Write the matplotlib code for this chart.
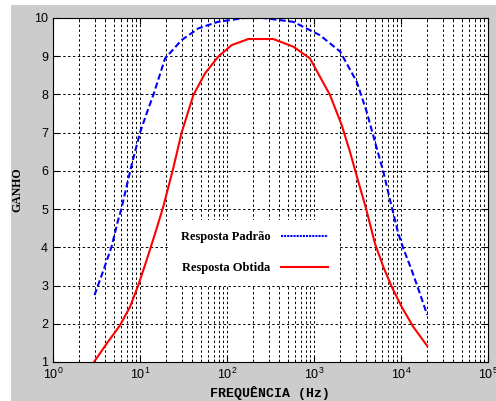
import matplotlib
matplotlib.use("Agg")
import matplotlib.pyplot as plt
from matplotlib.lines import Line2D
from matplotlib.patches import Rectangle
from matplotlib.ticker import LogLocator, LogFormatterSciNotation, NullFormatter

freq_padrao = [3, 3.8, 4.7, 5.6, 6.05, 8.0, 10, 11.9, 14.2, 19.4, 30, 47, 79, 160, 260,
               578, 1170, 2000, 3100, 4030, 5020, 6260, 7480, 9310, 10640, 13280, 16500, 20000]
ganho_padrao = [2.75, 3.40, 4.01, 4.71, 4.97, 6.15, 7.0, 7.5, 7.98, 8.94, 9.42, 9.73, 9.9, 10.0, 10.0,
                9.9, 9.55, 9.12, 8.33, 7.55, 6.76, 5.98, 5.24, 4.36, 3.97, 3.40, 2.79, 2.23]

freq_obtido = [3, 4.14, 5.89, 7.67, 9.56, 11.9, 14.9, 18.5, 24.1, 30.1, 41, 55.8, 79.4, 113, 176,
               240, 340, 578, 900, 1530, 2080, 2590, 3240, 3960, 5020, 6260, 7820, 10190, 13840, 20000]
ganho_obtido = [1.02, 1.48, 1.96, 2.44, 3.01, 3.66, 4.36, 5.06, 6.07, 7.0, 7.98, 8.55, 8.99, 9.29, 9.45,
                9.45, 9.45, 9.25, 8.94, 7.98, 7.2, 6.5, 5.71, 5.02, 4.10, 3.49, 2.97, 2.44, 1.92, 1.42]

plt.rcParams["font.family"] = ["Liberation Sans", "DejaVu Sans"]
plt.rcParams["mathtext.fontset"] = "custom"
plt.rcParams["mathtext.rm"] = "Liberation Sans"
plt.rcParams["mathtext.it"] = "Liberation Sans"

fig = plt.figure(figsize=(4.96, 4.01), dpi=100)
fig.patch.set_facecolor("white")
# MATLAB-style grey figure area
fig.patches.append(Rectangle((11 / 496, 0), 1, 1 - 5 / 401, transform=fig.transFigure,
                             facecolor="#cccccc", edgecolor="none", zorder=-10))

ax = fig.add_axes([53 / 496, 1 - 362 / 401, 435 / 496, 344 / 401])
ax.set_facecolor("white")

ax.semilogx(freq_padrao, ganho_padrao, color="blue", lw=1.5, dashes=(3, 1.5))
ax.semilogx(freq_obtido, ganho_obtido, color="red", lw=1.5)

ax.set_xlim(1, 1e5)
ax.set_ylim(1, 10)
ax.set_yticks(range(1, 11))
ax.xaxis.set_major_locator(LogLocator(base=10, numticks=10))
ax.xaxis.set_major_formatter(LogFormatterSciNotation())
ax.xaxis.set_minor_locator(LogLocator(base=10, subs=range(2, 10), numticks=20))
ax.xaxis.set_minor_formatter(NullFormatter())

grid_kw = dict(color="black", lw=0.7, linestyle=(0, (2.5, 2.5)))
ax.grid(True, which="major", axis="both", **grid_kw)
ax.grid(True, which="minor", axis="x", **grid_kw)

ax.tick_params(which="both", direction="in", top=True, right=True, labelsize=9)
ax.tick_params(which="major", length=4)
ax.tick_params(which="minor", length=2)
for s in ax.spines.values():
    s.set_linewidth(0.8)

ax.set_ylabel("GANHO", family="Liberation Serif", fontweight="bold", fontsize=8.5, labelpad=8)
ax.set_xlabel("FREQUÊNCIA (Hz)", family="Liberation Mono", fontweight="bold", fontsize=9.5, labelpad=3)

handles = [Line2D([], [], color="blue", lw=1.5, dashes=(1, 0.5)),
           Line2D([], [], color="red", lw=1.5)]
ax.legend(handles, ["Resposta Padrão", "Resposta Obtida"],
          loc="center", bbox_to_anchor=(0.257, 0.21, 0.413, 0.216), markerfirst=False,
          frameon=True, fancybox=False, edgecolor="none", framealpha=1,
          prop={"family": "Liberation Serif", "weight": "bold", "size": 9},
          handlelength=3.8, labelspacing=1.5, borderpad=0.9)

fig.savefig("out.png", dpi=100)
